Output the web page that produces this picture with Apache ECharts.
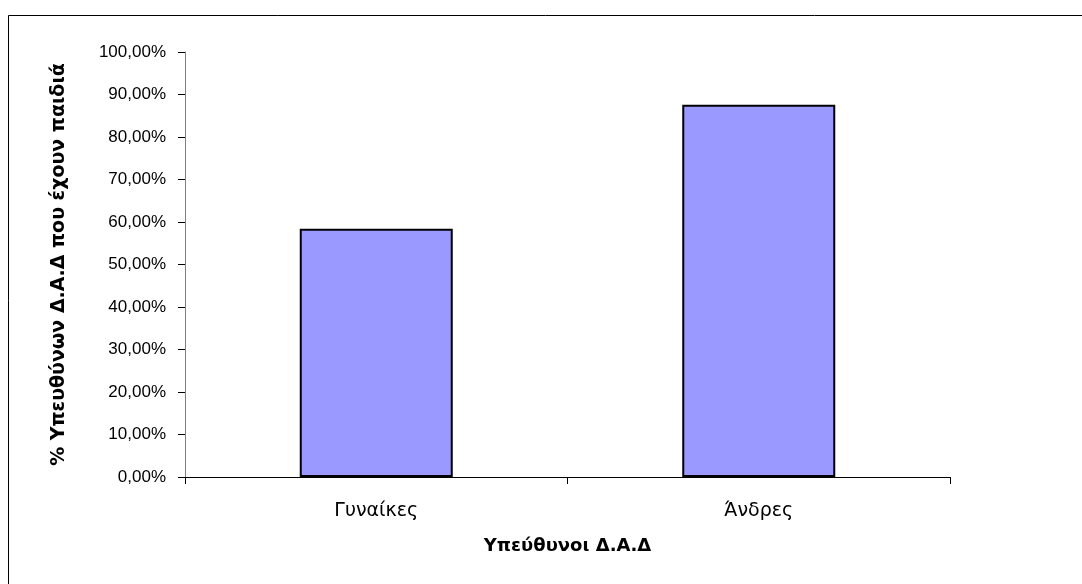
<!DOCTYPE html>
<html><head><meta charset="utf-8">
<script src="https://cdn.jsdelivr.net/npm/echarts@6/dist/echarts.min.js"></script>
<style>html,body{margin:0;padding:0;background:#fff}#c{width:1082px;height:584px}</style>
</head><body><div id="c"></div>
<script>
var categories = ['Γυναίκες', 'Άνδρες'];
var values = [58.4, 87.6];
var yTitle = '% Υπευθύνων Δ.Α.Δ που έχουν παιδιά';
var xTitle = 'Υπεύθυνοι Δ.Α.Δ';
var chart = echarts.init(document.getElementById('c'));
var font = 'Liberation Sans, Arial, sans-serif';
var wide = 'DejaVu Sans, Verdana, sans-serif';
chart.setOption({
  animation: false,
  backgroundColor: '#fff',
  graphic: [{type:'rect', shape:{x:8.5,y:15.5,width:1200,height:700}, style:{fill:'none',stroke:'#000',lineWidth:1}, silent:true}],
  grid: {left:185, top:52, right:132, bottom:107, containLabel:false},
  xAxis: {
    type:'category', data:categories,
    name:xTitle, nameLocation:'middle', nameGap:60,
    nameTextStyle:{fontFamily:wide, fontSize:18, fontWeight:'bold', color:'#000'},
    axisLine:{lineStyle:{color:'#000', width:1}},
    axisTick:{show:true, length:7, lineStyle:{color:'#000'}, alignWithLabel:false},
    axisLabel:{fontFamily:wide, fontSize:19, color:'#000', margin:25}
  },
  yAxis: {
    type:'value', min:0, max:100, interval:10,
    name:yTitle, nameLocation:'middle', nameGap:116, nameRotate:90,
    nameTextStyle:{fontFamily:wide, fontSize:19, fontWeight:'bold', color:'#000'},
    axisLine:{show:true, lineStyle:{color:'#808080', width:1}},
    axisTick:{show:true, length:7, lineStyle:{color:'#000'}},
    splitLine:{show:false},
    axisLabel:{fontFamily:font, fontSize:17, color:'#000', margin:19,
      formatter:function(v){return v.toFixed(2).replace('.', ',') + '%';}}
  },
  series: [{
    type:'bar', data:values, barWidth:153,
    itemStyle:{color:'#9999FF', borderColor:'#000', borderWidth:2}
  }]
});
</script></body></html>
